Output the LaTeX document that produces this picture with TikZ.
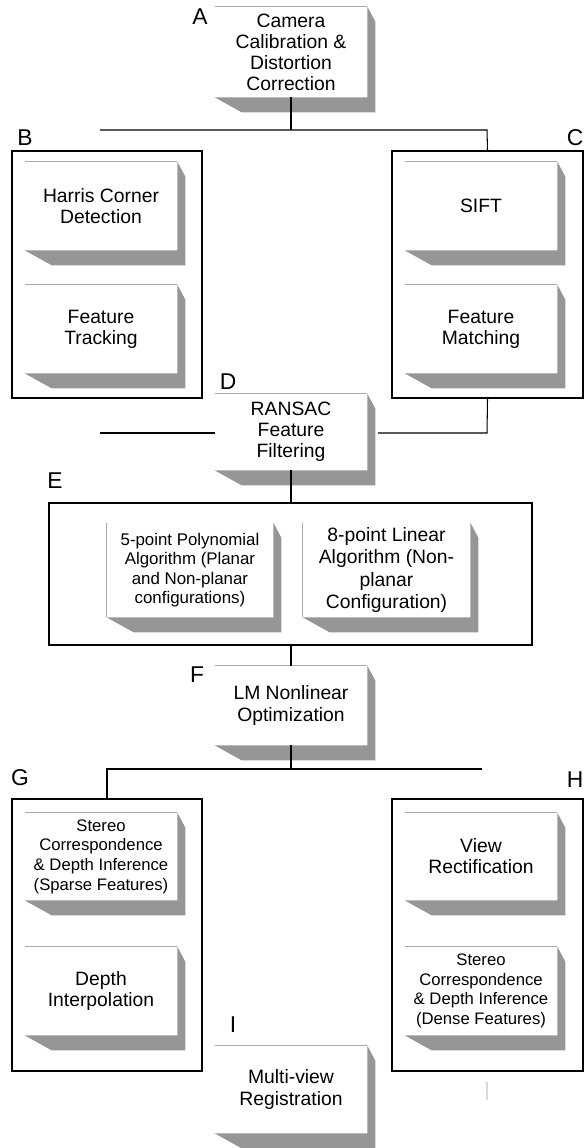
\documentclass[tikz,border=0pt]{standalone}
\usepackage{fontspec}
\setmainfont{Liberation Sans}
\usetikzlibrary{positioning}

% grey side and bottom of a raised box
\newcommand{\extrude}[1]{%
  \fill[sidefill] (#1.north east) -- ++(8,15) -- ([shift={(8,15)}]#1.south east)
    -- ([shift={(27,15)}]#1.south west) -- (#1.south west) -- (#1.south east) -- cycle;
}

\begin{document}
\begin{tikzpicture}[
    x=0.02cm, y=-0.02cm,
    every node/.style={align=center},
    face/.style={rectangle, fill=white, inner sep=0pt, minimum width=3.04cm, minimum height=1.76cm, font=\fontsize{11}{12}\selectfont},
    smallface/.style={face, font=\fontsize{9.5}{11.2}\selectfont},
    group/.style={rectangle, draw, line width=0.9pt, inner sep=0pt},
    tag/.style={inner sep=0pt, font=\fontsize{13}{15}\selectfont},
    sidefill/.style={fill={rgb,255:red,150;green,150;blue,150}},
    topedge/.style={draw={rgb,255:red,170;green,170;blue,170}, line width=0.6pt},
    wire/.style={draw=black, line width=0.6pt}
]
\useasboundingbox (0,0) rectangle (584,1148);

% Groups
\node[group, minimum width=3.8cm, minimum height=4.94cm] (grpB) at (107,274.5) {};
\node[group, minimum width=3.82cm, minimum height=4.94cm] (grpC) at (487.5,274.5) {};
\node[group, minimum width=9.66cm, minimum height=2.84cm] (grpE) at (290.5,574) {};
\node[group, minimum width=3.8cm, minimum height=5.44cm] (grpG) at (107,935) {};
\node[group, minimum width=3.82cm, minimum height=5.44cm] (grpH) at (487.5,935) {};

% Nodes
\node[face, minimum height=1.8cm] (calib) at (291,52) {Camera\\Calibration \&\\Distortion\\Correction};
\node[face] (harris) at (101,206) {Harris Corner\\Detection};
\node[face] (tracking) at (101,329) {Feature\\Tracking};
\node[face] (sift) at (481,206) {SIFT};
\node[face] (matching) at (481,329) {Feature\\Matching};
\node[face, minimum height=1.52cm] (ransac) at (291,432) {RANSAC\\Feature\\Filtering};
\node[face, minimum width=3.32cm, minimum height=1.88cm, font=\fontsize{9.6}{11}\selectfont] (fivept) at (190,570) {5-point Polynomial\\Algorithm (Planar\\and Non-planar\\configurations)};
\node[face, minimum width=3.34cm, minimum height=1.88cm, font=\fontsize{11}{12.6}\selectfont] (eightpt) at (386.5,570) {8-point Linear\\Algorithm (Non-\\planar\\Configuration)};
\node[face, minimum height=1.58cm] (lm) at (291,705.5) {LM Nonlinear\\Optimization};
\node[smallface, minimum height=1.74cm] (sparse) at (101,856.5) {Stereo\\Correspondence\\\& Depth Inference\\(Sparse Features)};
\node[face, minimum height=1.76cm] (interp) at (101,991) {Depth\\Interpolation};
\node[face, minimum height=1.74cm] (rectify) at (481,856.5) {View\\Rectification};
\node[smallface, minimum height=1.76cm] (dense) at (481,991) {Stereo\\Correspondence\\\& Depth Inference\\(Dense Features)};
\node[face, minimum height=1.74cm] (multiview) at (291,1089.5) {Multi-view\\Registration};

% Box sides
\foreach \n in {calib,harris,tracking,sift,matching,ransac,fivept,eightpt,lm,sparse,interp,rectify,dense,multiview}
  \extrude{\n};
\foreach \n in {calib,harris,tracking,sift,matching,ransac,lm,sparse,interp,rectify,dense,multiview}
  \draw[topedge] (\n.north west) -- (\n.north east);
\foreach \n in {fivept,eightpt}
  \draw[topedge] (\n.north west) -- (\n.south west);

% Letters
\node[tag] (labA) at (200,17) {A};
\node[tag] (labB) at (25,138) {B};
\node[tag] (labC) at (575,138) {C};
\node[tag] (labD) at (228,382) {D};
\node[tag] (labE) at (55,481) {E};
\node[tag] (labF) at (197,675) {F};
\node[tag] (labG) at (20,778) {G};
\node[tag] (labH) at (575,780) {H};
\node[tag] (labI) at (233,1025) {I};

% Lines
\coordinate (busAL) at (100,130);
\coordinate (busAR) at (487,130);
\coordinate (ransacL) at (100,433);
\coordinate (ransacS) at (378,433);
\coordinate (ransacR) at (487,433);
\coordinate (busGL) at (107,769);
\coordinate (busGR) at (482,769);
\coordinate (tickA) at (487,1082);
\coordinate (tickB) at (487,1100);

\draw[wire] (calib.south) -- (calib.south |- busAL);
\draw[wire] (busAL) -- (busAR) -- (grpC.north);
\draw[wire] (ransacL) -- (ransacL -| ransac.west);
\draw[wire] (ransacS) -- (ransacR) -- (grpC.south);
\draw[wire] (ransac.south) -- (ransac.south |- grpE.north);
\draw[wire] (grpE.south -| lm.north) -- (lm.north);
\draw[wire] (lm.south) -- (lm.south |- busGL);
\draw[wire] (busGR) -- (busGL) -- (grpG.north);
\draw[gray!30, line width=0.6pt] (tickA) -- (tickB);

\end{tikzpicture}
\end{document}
